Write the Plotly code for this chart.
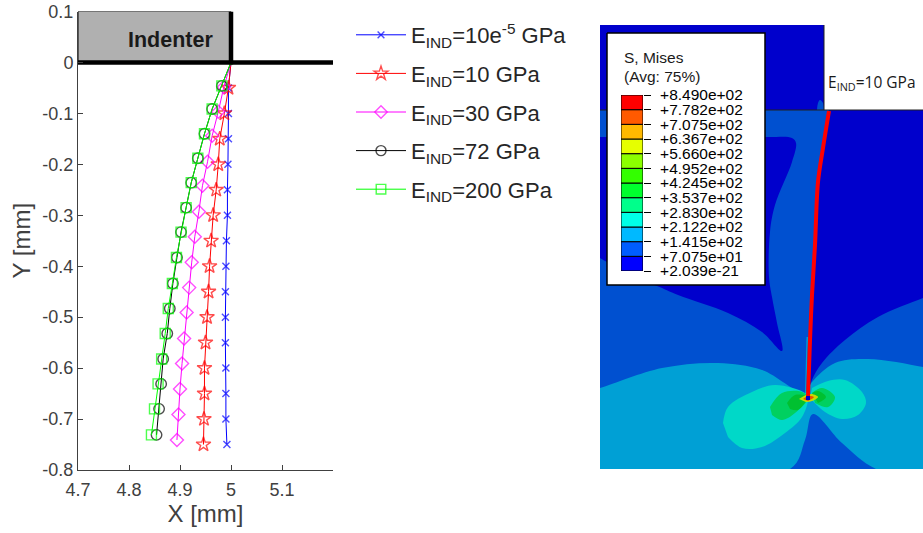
import plotly.graph_objects as go

# ---------- left chart data ----------
y_grid = [-0.05 * i for i in range(1, 16)]
blue_x = [5.0, 4.995, 4.995, 4.995, 4.994, 4.993, 4.993, 4.991, 4.990, 4.989, 4.989, 4.989, 4.990, 4.990, 4.990, 4.992]
blue_y = [0] + y_grid
red_x = [5.0, 4.995, 4.987, 4.978, 4.975, 4.971, 4.965, 4.961, 4.958, 4.956, 4.953, 4.950, 4.948, 4.948, 4.947, 4.946]
red_y = [0] + y_grid
mag_x = [5.0, 4.986, 4.975, 4.963, 4.954, 4.944, 4.937, 4.929, 4.923, 4.918, 4.913, 4.908, 4.904, 4.900, 4.897, 4.894]
mag_y = [0, -0.048, -0.097, -0.144, -0.195, -0.242, -0.293, -0.342, -0.392, -0.442, -0.491, -0.542, -0.591, -0.641, -0.691, -0.741]
blk_x = [5.0, 4.982, 4.963, 4.948, 4.935, 4.922, 4.912, 4.902, 4.894, 4.886, 4.880, 4.875, 4.867, 4.863, 4.859, 4.854]
blk_y = [0, -0.046, -0.0915, -0.14, -0.188, -0.236, -0.285, -0.333, -0.383, -0.434, -0.483, -0.532, -0.582, -0.631, -0.680, -0.731]
grn_x = [5.0, 4.982, 4.963, 4.948, 4.935, 4.922, 4.912, 4.902, 4.893, 4.885, 4.877, 4.871, 4.864, 4.857, 4.850, 4.844]
grn_y = blk_y

series_names = ["E<sub>IND</sub>=10e<sup>-5</sup> GPa", "E<sub>IND</sub>=10 GPa", "E<sub>IND</sub>=30 GPa",
                "E<sub>IND</sub>=72 GPa", "E<sub>IND</sub>=200 GPa"]
x_ticks = [4.7, 4.8, 4.9, 5, 5.1]
x_labels = ["4.7", "4.8", "4.9", "5", "5.1"]
y_ticks = [0.1, 0, -0.1, -0.2, -0.3, -0.4, -0.5, -0.6, -0.7, -0.8]
y_labels = ["0.1", "0", "-0.1", "-0.2", "-0.3", "-0.4", "-0.5", "-0.6", "-0.7", "-0.8"]

# ---------- contour colour bar ----------
levels = [2.039e-21, 70.75, 141.5, 212.2, 283.0, 353.7, 424.5, 495.2, 566.0, 636.7, 707.5, 778.2, 849.0]
level_labels = ["+2.039e-21", "+7.075e+01", "+1.415e+02", "+2.122e+02", "+2.830e+02", "+3.537e+02", "+4.245e+02",
                "+4.952e+02", "+5.660e+02", "+6.367e+02", "+7.075e+02", "+7.782e+02", "+8.490e+02"]
band_colors = ["#0000FF", "#005DFF", "#00B9FF", "#00FFE7", "#00FF8B", "#00FF2E",
               "#33FF00", "#8CFF00", "#E6FF00", "#FFB900", "#FF5A00", "#FF0000"]

# ---------- contour picture outlines (image coordinates) ----------
lower_x = [600, 923, 923, 600]
lower_y = [110, 110, 469, 469]
upper_x = [600, 824, 824, 600]
upper_y = [25, 25, 110, 110]
notch_x = [824, 923, 923, 824]
notch_y = [25, 25, 110, 110]
dark_l_x = [585, 600, 635, 657, 678, 728, 762, 782, 777, 772, 769, 770, 775, 792, 796, 792, 765, 585]
dark_l_y = [250, 258, 278, 286, 295, 313, 332, 351, 323, 297, 277, 232, 205, 162, 143, 138, 137, 137]
dark_r_x = [831, 829, 823, 818, 813, 810, 808, 812, 822, 845, 878, 923, 945, 945]
dark_r_y = [100, 110, 148, 182, 280, 340, 395, 380, 363, 340, 317, 298, 290, 100]
bump_x = [817, 818, 820, 823, 824, 824]
bump_y = [110, 103, 100, 103, 108, 110]
cyan_x = [585, 600, 662, 718, 762, 805, 812, 835, 868, 923, 945, 945, 876, 842, 813, 805, 790, 585]
cyan_y = [392, 388, 368, 363, 370, 393, 382, 363, 359, 367, 372, 485, 469, 443, 414, 440, 469, 485]
sliver_x = [808, 806, 805, 806.5]
sliver_y = [337, 395, 395, 337]
teal_l_x = [723, 728, 752, 775, 805, 808, 802, 785, 762, 742, 728]
teal_l_y = [423, 407, 392, 385, 393, 398, 417, 433, 447, 448, 437]
teal_r_x = [812, 828, 845, 862, 866, 858, 842, 825, 810]
teal_r_y = [388, 381, 380, 392, 403, 415, 419, 412, 398]
grn1_l_x = [770, 782, 802, 808, 795, 782, 772]
grn1_l_y = [407, 393, 392, 398, 413, 420, 415]
grn1_r_x = [812, 822, 835, 828, 815]
grn1_r_y = [393, 388, 397, 407, 403]
grn2_l_x = [787, 795, 807, 798, 790]
grn2_l_y = [403, 395, 397, 410, 409]
grn2_r_x = [812, 818, 826, 818]
grn2_r_y = [393, 391, 397, 403]
yel_x = [799, 806, 812, 818, 812, 806]
yel_y = [399, 395, 394, 397, 401, 402]
org_x = [803, 808, 814, 808]
org_y = [399, 396, 397, 401]
crack_x = [829, 823, 818, 815, 812, 810, 808]
crack_y = [111, 148, 182, 245, 295, 340, 397]
tip_x = [806, 810, 810, 806]
tip_y = [396, 396, 400, 400]
box_x = [607, 765, 765, 607, 607]
box_y = [33, 33, 285, 285, 33]

FONT = "Liberation Sans, Arial, sans-serif"
W, H = 923, 533
fig = go.Figure()

# Indenter body
fig.add_trace(go.Scatter(x=[4.7, 5, 5, 4.7, 4.7], y=[0, 0, 0.1, 0.1, 0], fill="toself", fillcolor="#B0B0B0", mode="lines",
                         line=dict(color="#000000", width=1), showlegend=False, hoverinfo="skip"))

styles = [
    (blue_x, blue_y, "#0000FF", "x-thin-open", 7),
    (red_x, red_y, "#FF0000", "star-open", 11),
    (mag_x, mag_y, "#FF00FF", "diamond-open", 10),
    (blk_x, blk_y, "#000000", "circle-open", 10.5),
    (grn_x, grn_y, "#00FF00", "square-open", 10),
]
for i, ((xs, ys, c, sym, sz), name) in enumerate(zip(styles, series_names)):
    # the marker of the first point sits in the indenter edge and barely shows
    sizes = [3] + [sz] * (len(xs) - 1)
    fig.add_trace(go.Scatter(x=xs, y=ys, name=name, mode="lines+markers", legendgroup=str(i),
                             line=dict(color=c, width=1),
                             marker=dict(symbol=sym, size=sizes, color=c, line=dict(color=c, width=1.4))))

# Indenter edges, on top of the curves
fig.add_trace(go.Scatter(x=[5, 5], y=[0, 0.1], mode="lines", line=dict(color="#000000", width=4.5), showlegend=False, hoverinfo="skip"))
fig.add_trace(go.Scatter(x=[4.7, 5.2], y=[0, 0], mode="lines", line=dict(color="#000000", width=4.5), showlegend=False, hoverinfo="skip"))

# contour picture
def poly(xs, ys, color, smooth=True):
    line = dict(width=0, color=color)
    if smooth:
        line.update(shape="spline", smoothing=1.0)
    fig.add_trace(go.Scatter(x=xs, y=ys, xaxis="x2", yaxis="y2", mode="lines", fill="toself", fillcolor=color,
                             line=line, showlegend=False, hoverinfo="skip"))

poly(lower_x, lower_y, "#0050D0", smooth=False)
poly(dark_l_x, dark_l_y, "#0000CC")
poly(dark_r_x, dark_r_y, "#0000CC")
poly(upper_x, upper_y, "#0000CC", smooth=False)
poly(notch_x, notch_y, "#FFFFFF", smooth=False)
poly(bump_x, bump_y, "#0050D0")
poly(cyan_x, cyan_y, "#00A0D5")
poly(sliver_x, sliver_y, "#00A0D5", smooth=False)
poly(teal_l_x, teal_l_y, "#00D8C8")
poly(teal_r_x, teal_r_y, "#00D8C8")
poly(grn1_l_x, grn1_l_y, "#00D060")
poly(grn1_r_x, grn1_r_y, "#00D060")
poly(grn2_l_x, grn2_l_y, "#00C030")
poly(grn2_r_x, grn2_r_y, "#00C030")
poly(yel_x, yel_y, "#C8D800")
poly(org_x, org_y, "#E85000")
fig.add_trace(go.Scatter(x=[600, 923], y=[110, 110], xaxis="x2", yaxis="y2", mode="lines",
                         line=dict(color="#202020", width=1), showlegend=False, hoverinfo="skip"))
fig.add_trace(go.Scatter(x=[824, 824], y=[25, 110], xaxis="x2", yaxis="y2", mode="lines",
                         line=dict(color="#202020", width=1), showlegend=False, hoverinfo="skip"))
fig.add_trace(go.Scatter(x=crack_x, y=crack_y, xaxis="x2", yaxis="y2", mode="lines",
                         line=dict(color="#FF0000", width=4, shape="spline"), showlegend=False, hoverinfo="skip"))
poly(tip_x, tip_y, "#0000CC", smooth=False)
fig.add_trace(go.Scatter(x=box_x, y=box_y, xaxis="x2", yaxis="y2", mode="lines", fill="toself", fillcolor="#FFFFFF",
                         line=dict(color="#000000", width=1.5), showlegend=False, hoverinfo="skip"))

# colour bar
fig.add_trace(go.Bar(x=[0] * len(band_colors), y=[b - a for a, b in zip(levels[:-1], levels[1:])], base=levels[:-1],
                     width=1, xaxis="x3", yaxis="y3", marker=dict(color=band_colors, line=dict(color="#000000", width=1)),
                     showlegend=False, hoverinfo="skip"))

tickf = dict(family=FONT, size=18, color="#404040")
fig.update_layout(
    width=W, height=H, autosize=False, margin=dict(l=0, r=0, t=0, b=0, autoexpand=False),
    paper_bgcolor="white", plot_bgcolor="rgba(0,0,0,0)", barmode="overlay",
    font=dict(family=FONT, color="#262626"),
    xaxis=dict(domain=[78 / W, 333 / W], range=[4.7, 5.2], tickvals=x_ticks, ticktext=x_labels, ticks="inside", ticklen=5,
               tickcolor="#404040", tickfont=tickf, showgrid=False, zeroline=False, showline=True, linecolor="#404040", linewidth=1,
               ticklabelstandoff=3,
               title=dict(text="X [mm]", font=dict(family=FONT, size=24, color="#404040"), standoff=4)),
    yaxis=dict(domain=[(H - 470) / H, (H - 11.5) / H], range=[-0.8, 0.1], tickvals=y_ticks, ticktext=y_labels, ticks="inside", ticklen=5,
               tickcolor="#404040", tickfont=tickf, showgrid=False, zeroline=False, showline=True, linecolor="#404040", linewidth=1,
               title=dict(text="Y [mm]", font=dict(family=FONT, size=24, color="#404040"), standoff=4)),
    xaxis2=dict(domain=[600 / W, 1], range=[600, 923], visible=False, anchor="y2"),
    yaxis2=dict(domain=[(H - 469) / H, (H - 25) / H], range=[469, 25], visible=False, anchor="x2"),
    xaxis3=dict(domain=[621 / W, 643 / W], range=[-0.5, 0.5], visible=False, anchor="y3"),
    yaxis3=dict(domain=[(H - 271) / H, (H - 95) / H], range=[0, 849], anchor="x3", side="right", tickvals=levels, ticktext=level_labels,
                ticks="outside", ticklen=7, tickcolor="#000000", tickwidth=1, showgrid=False, zeroline=False, showline=False,
                automargin=False, tickfont=dict(family=FONT, size=15.5, color="#000000"), ticklabelstandoff=6),
    legend=dict(x=351 / W, y=(H - 14) / H, xanchor="left", yanchor="top", itemwidth=50, tracegroupgap=7,
                font=dict(family=FONT, size=22, color="#262626"), bgcolor="rgba(0,0,0,0)", borderwidth=0, itemclick=False, itemdoubleclick=False),
    annotations=[
        dict(x=4.882, y=0.045, xref="x", yref="y", text="<b>Indenter</b>", showarrow=False,
             font=dict(family=FONT, size=21.5, color="#1A1A1A")),
        dict(x=622, y=57, xref="x2", yref="y2", xanchor="left", text="S, Mises", showarrow=False,
             font=dict(family=FONT, size=15.5, color="#1A1A1A")),
        dict(x=622, y=76, xref="x2", yref="y2", xanchor="left", text="(Avg: 75%)", showarrow=False,
             font=dict(family=FONT, size=15.5, color="#1A1A1A")),
        dict(x=826, y=82, xref="x2", yref="y2", xanchor="left", text="E<sub>IND</sub>=10 GPa", showarrow=False,
             font=dict(family="Open Sans", size=15.5, color="#1A1A1A")),
    ],
)
fig.write_html("out.html", config=dict(displayModeBar=False), post_script="document.body.style.margin='0';")
